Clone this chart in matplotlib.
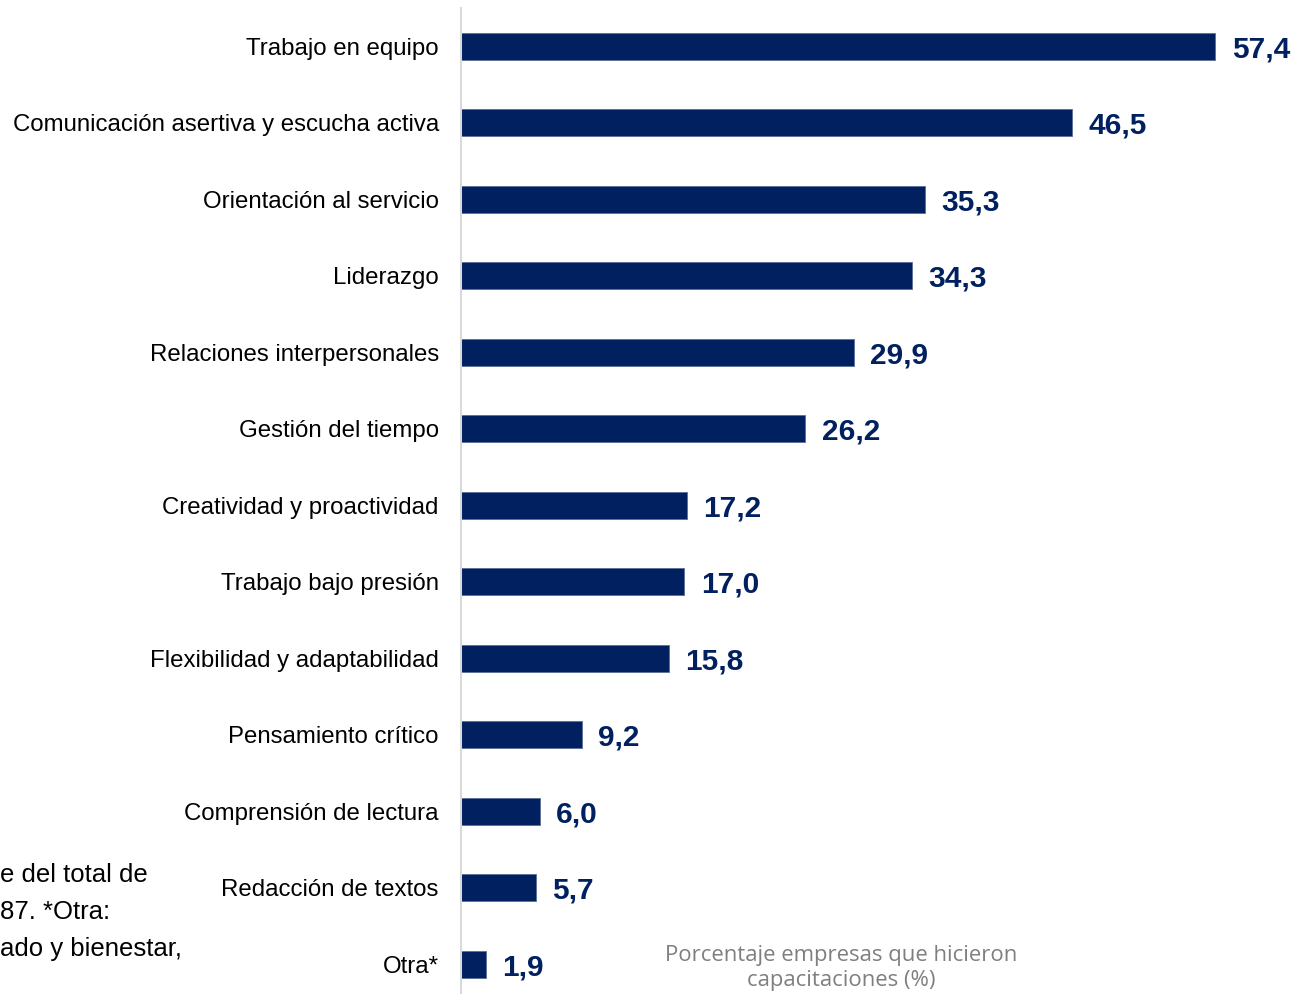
import matplotlib
matplotlib.use('Agg')
import matplotlib.pyplot as plt

plt.rcParams['font.family'] = ['Liberation Sans', 'DejaVu Sans']

categorias = ['Trabajo en equipo', 'Comunicación asertiva y escucha activa',
              'Orientación al servicio', 'Liderazgo', 'Relaciones interpersonales',
              'Gestión del tiempo', 'Creatividad y proactividad', 'Trabajo bajo presión',
              'Flexibilidad y adaptabilidad', 'Pensamiento crítico',
              'Comprensión de lectura', 'Redacción de textos', 'Otra*']
porcentajes = [57.4, 46.5, 35.3, 34.3, 29.9, 26.2, 17.2, 17.0, 15.8, 9.2, 6.0, 5.7, 1.9]

nota = ['e del total de', '87. *Otra:', 'ado y bienestar,']
titulo_x = 'Porcentaje empresas que hicieron\ncapacitaciones (%)'

azul = '#002060'

fig = plt.figure(figsize=(12.94, 9.94), dpi=100)
ax = fig.add_axes([461 / 1294, 0, 828 / 1294, 986 / 994])

y = list(range(len(categorias)))
ax.barh(y, porcentajes, height=0.35, color=azul, edgecolor='#5a6f98', linewidth=0.6)

for yi, v in zip(y, porcentajes):
    ax.text(v + 1.25, yi, f'{v:.1f}'.replace('.', ','), va='center_baseline', ha='left',
            fontsize=21.5, fontweight='bold', color=azul, clip_on=False)

ax.set_ylim(12.39, -0.5)
ax.set_xlim(0, 63)
ax.set_yticks(y)
ax.set_yticklabels(categorias, fontsize=17.3, color='black')
ax.tick_params(axis='y', length=0, pad=16)
ax.set_xticks([])

for s in ['top', 'right', 'bottom']:
    ax.spines[s].set_visible(False)
ax.spines['left'].set_color('#d9d9d9')
ax.spines['left'].set_linewidth(1.5)

for i, linea in enumerate(nota):
    fig.text(0, 1 - (875 + 37 * i) / 994, linea, ha='left', va='center',
             fontsize=18.5, color='black')

fig.text(841 / 1294, 1 - 968 / 994, titulo_x, ha='center', va='center',
         fontsize=15.9, color='#7f7f7f', family=['Open Sans', 'DejaVu Sans'], linespacing=1.2)

fig.savefig('out.png', dpi=100)
